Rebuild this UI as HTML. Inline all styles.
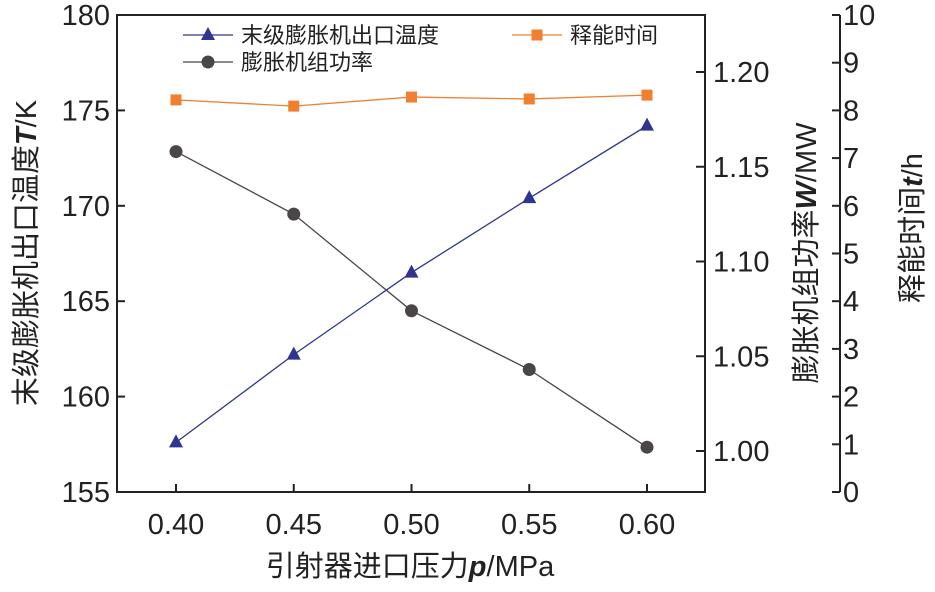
<!DOCTYPE html>
<html><head><meta charset="utf-8"><style>
body{margin:0;background:#fff;}
svg text{font-family:"Liberation Sans","Noto Sans CJK SC",sans-serif;}
</style></head><body>
<svg width="935" height="587" viewBox="0 0 935 587">
<g id="g"></g>
</svg>
<script>
const categories=[0.40,0.45,0.50,0.55,0.60];
const xTickLabels=["0.40","0.45","0.50","0.55","0.60"];
const tempValues=[157.6,162.2,166.5,170.4,174.2];
const powerValues=[1.158,1.125,1.074,1.043,1.002];
const timeValues=[8.22,8.09,8.28,8.24,8.32];
const yLeftTicks=[155,160,165,170,175,180];
const yRightTicks=[1.00,1.05,1.10,1.15,1.20];
const yTimeTicks=[0,1,2,3,4,5,6,7,8,9,10];

const L=117,R=705,T=15,B=492;
const xs=v=>176+(v-0.40)/0.05*117.75;
const yT=v=>B-(v-155)/25*(B-T);
const yW=v=>451-(v-1.00)/0.05*94.75;
const yH=v=>B-v/10*(B-T);
const NS="http://www.w3.org/2000/svg";
const g=document.getElementById('g');
function mk(tag,attrs,parent){const e=document.createElementNS(NS,tag);for(const k in attrs)e.setAttribute(k,attrs[k]);(parent||g).appendChild(e);return e;}

let frame=mk('rect',{x:L,y:T,width:R-L,height:B-T,fill:'none',stroke:'#222','stroke-width':2});



categories.forEach((c,i)=>{
  const x=xs(c);
  let t=mk('line',{x1:x,y1:B,x2:x,y2:B-8,stroke:'#222','stroke-width':2});
  
  
  let l=mk('text',{x:x,y:B+42,'font-size':29,'text-anchor':'middle',fill:'#222'});
  l.textContent=xTickLabels[i];
  
  
});
yLeftTicks.forEach(v=>{
  const y=yT(v);
  let t=mk('line',{x1:L,y1:y,x2:L+8,y2:y,stroke:'#222','stroke-width':2});
  
  
  let l=mk('text',{x:L-7,y:y+10,'font-size':29,'text-anchor':'end',fill:'#222'});
  l.textContent=v;
  
  
});
yRightTicks.forEach(v=>{
  const y=yW(v);
  let t=mk('line',{x1:R,y1:y,x2:R-9,y2:y,stroke:'#222','stroke-width':2});
  
  
  let l=mk('text',{x:R+8,y:y+10,'font-size':29,fill:'#222'});
  l.textContent=v.toFixed(2);
  
  
});
const AX=840;
let ax=mk('line',{x1:AX,y1:T,x2:AX,y2:B,stroke:'#222','stroke-width':2});


yTimeTicks.forEach(v=>{
  const y=yH(v);
  let t=mk('line',{x1:AX,y1:y,x2:AX-8,y2:y,stroke:'#222','stroke-width':2});
  
  
  let l=mk('text',{x:AX+3,y:y+10,'font-size':29,fill:'#222'});
  l.textContent=v;
  
  
});

function series(vals,yf,color,shape,name){
  const pts=vals.map((v,i)=>[xs(categories[i]),yf(v)]);
  let p=mk('polyline',{points:pts.map(p=>p.join(',')).join(' '),fill:'none',stroke:color,'stroke-width':1.3});
  
  
  pts.forEach(([x,y])=>{marker(x,y,color,shape,name+'-point');});
}
function marker(x,y,color,shape,name){
  let m;
  if(shape==='tri')m=mk('polygon',{points:`${x},${y-8} ${x-7},${y+5} ${x+7},${y+5}`,fill:color});
  else if(shape==='sq')m=mk('rect',{x:x-5.5,y:y-5.5,width:11,height:11,fill:color});
  else m=mk('circle',{cx:x,cy:y,r:6.5,fill:color});
  
  
}
series(timeValues,yH,'#f07f2f','sq','time-series');
series(powerValues,yW,'#4a4646','circ','power-series');
series(tempValues,yT,'#2e3590','tri','temp-series');

function legend(x,y,color,shape,label,name){
  let l=mk('line',{x1:x,y1:y,x2:x+50,y2:y,stroke:color,'stroke-width':1.3});
  
  
  marker(x+25,y,color,shape,name+'-marker');
  let t=mk('text',{x:x+58,y:y+8,'font-size':22,fill:'#222'});
  t.textContent=label;
  
  
}
legend(183,35,'#2e3590','tri','末级膨胀机出口温度','legend-temp');
legend(183,62,'#4a4646','circ','膨胀机组功率','legend-power');
legend(512,35,'#f07f2f','sq','释能时间','legend-time');

function title(x,y,rot,html,name){
  let t=mk('text',{x:x,y:y,'font-size':29,'text-anchor':'middle',fill:'#222',transform:rot?`rotate(-90 ${x} ${y})`:''});
  t.innerHTML=html;
  
  
}
title(410,576,false,'引射器进口压力<tspan font-style="italic" font-weight="bold">p</tspan>/MPa','x-axis-title');
title(36,253,true,'末级膨胀机出口温度<tspan font-style="italic" font-weight="bold">T</tspan>/K','y-left-title');
title(816,253,true,'膨胀机组功率<tspan font-style="italic" font-weight="bold">W</tspan>/MW','y-right-title');
title(922,228,true,'释能时间<tspan font-style="italic" font-weight="bold">t</tspan>/h','y-time-title');
</script>
</body></html>
